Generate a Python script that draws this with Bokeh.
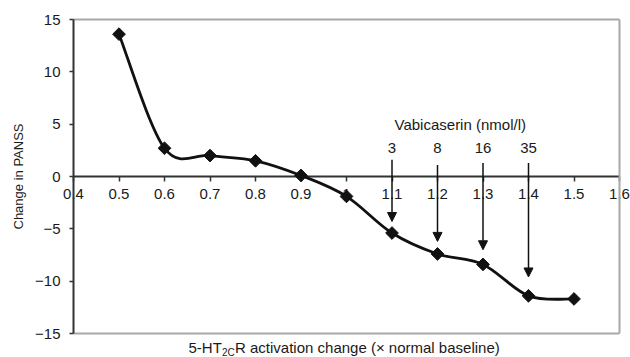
import numpy as np
from bokeh.plotting import figure
from bokeh.models import Range1d, Label, Arrow, NormalHead, FixedTicker, LinearAxis
from bokeh.embed import file_html
from bokeh.resources import INLINE

# ---- data ----
x_vals = [0.5, 0.6, 0.7, 0.8, 0.9, 1.0, 1.1, 1.2, 1.3, 1.4, 1.5]
y_vals = [13.6, 2.7, 2.0, 1.5, 0.1, -1.9, -5.4, -7.4, -8.4, -11.4, -11.7]
x_ticks = [0.4, 0.5, 0.6, 0.7, 0.8, 0.9, 1.0, 1.1, 1.2, 1.3, 1.4, 1.5, 1.6]
x_tick_labels = ["0.4", "0.5", "0.6", "0.7", "0.8", "0.9", "1", "1.1", "1.2", "1.3", "1.4", "1.5", "1.6"]
y_ticks = [-15, -10, -5, 0, 5, 10, 15]
y_tick_labels = ["\u221215", "\u221210", "\u22125", "0", "5", "10", "15"]
arrow_x = [1.1, 1.2, 1.3, 1.4]
arrow_labels = ["3", "8", "16", "35"]
arrow_top = [1.6, 1.1, 1.3, 1.3]
arrow_tip = [-4.3, -6.2, -7.0, -9.6]
dose_title = "Vabicaserin (nmol/l)"

FONT = "Liberation Sans"
INK = "#1a1a1a"
AX = "#333333"
BOX = "#a8a8a8"

W, H = 630, 357
# plotting box (pixels from top-left) and its data limits
BOX_L, BOX_R, BOX_T, BOX_B = 73, 619, 19, 333
X0, X1 = 0.4, 1.6
Y0, Y1 = -15, 15
xpp = (X1 - X0) / (BOX_R - BOX_L)
ypp = (Y1 - Y0) / (BOX_B - BOX_T)

# the frame spans the whole canvas so nothing gets clipped; the box is drawn with axes
p = figure(width=W, height=H, output_backend="svg", toolbar_location=None,
           x_range=Range1d(X0 - BOX_L * xpp, X1 + (W - BOX_R) * xpp),
           y_range=Range1d(Y0 - (H - BOX_B) * ypp, Y1 + BOX_T * ypp),
           x_axis_location=None, y_axis_location=None,
           min_border=0, min_border_left=0, min_border_right=0, min_border_top=0, min_border_bottom=0)
p.grid.visible = False
p.background_fill_color = "white"
p.border_fill_color = "white"
p.outline_line_color = None


def box_axis(side, loc, bounds):
    a = LinearAxis(fixed_location=loc, bounds=bounds, ticker=FixedTicker(ticks=[]),
                   axis_line_color=BOX, axis_line_width=2,
                   major_tick_line_color=None, minor_tick_line_color=None,
                   major_label_text_font_size="0px")
    p.add_layout(a, side)


box_axis("above", Y1, (X0, X1))
box_axis("below", Y0, (X0, X1))
box_axis("right", X1, (Y0, Y1))

# x axis crossing at y = 0
xa = LinearAxis(fixed_location=0, bounds=(X0, X1), ticker=FixedTicker(ticks=x_ticks))
xa.major_label_overrides = {t: l for t, l in zip(x_ticks, x_tick_labels)}
xa.axis_line_color = AX
xa.axis_line_width = 2
xa.major_tick_in = 0
xa.major_tick_out = 5
xa.major_tick_line_color = AX
xa.major_tick_line_width = 1.5
xa.minor_tick_line_color = None
xa.major_label_standoff = 7
xa.major_label_text_font = FONT
xa.major_label_text_font_size = "15px"
xa.major_label_text_color = INK
p.add_layout(xa, "below")

ya = LinearAxis(fixed_location=X0, bounds=(Y0, Y1), ticker=FixedTicker(ticks=y_ticks))
ya.major_label_overrides = {t: l for t, l in zip(y_ticks, y_tick_labels)}
ya.axis_line_color = AX
ya.axis_line_width = 2
ya.major_tick_in = 0
ya.major_tick_out = 4
ya.major_tick_line_color = AX
ya.major_tick_line_width = 1.5
ya.minor_tick_line_color = None
ya.major_label_standoff = 9
ya.major_label_text_font = FONT
ya.major_label_text_font_size = "15px"
ya.major_label_text_color = INK
ya.axis_label = "Change in PANSS"
ya.axis_label_text_font = FONT
ya.axis_label_text_font_size = "13px"
ya.axis_label_text_font_style = "normal"
ya.axis_label_text_color = INK
ya.axis_label_standoff = 6
p.add_layout(ya, "left")

# smoothed line (Catmull-Rom style Bezier segments through the data points)
xs = np.array(x_vals, dtype=float)
ys = np.array(y_vals, dtype=float)
n = len(xs)
x0, y0, x1, y1, cx0, cy0, cx1, cy1 = ([] for _ in range(8))
for i in range(n - 1):
    a = i - 1 if i > 0 else i
    d = i + 2 if i + 2 < n else i + 1
    x0.append(xs[i]); y0.append(ys[i])
    x1.append(xs[i + 1]); y1.append(ys[i + 1])
    cx0.append(xs[i] + (xs[i + 1] - xs[a]) / 6); cy0.append(ys[i] + (ys[i + 1] - ys[a]) / 6)
    cx1.append(xs[i + 1] - (xs[d] - xs[i]) / 6); cy1.append(ys[i + 1] - (ys[d] - ys[i]) / 6)
p.bezier(x0=x0, y0=y0, x1=x1, y1=y1, cx0=cx0, cy0=cy0, cx1=cx1, cy1=cy1,
         line_color="#111111", line_width=2.8, level="overlay")
p.scatter(x_vals, y_vals, marker="square", angle=np.pi / 4, size=9,
          fill_color="#111111", line_color="#111111", level="overlay")

# arrows and dose labels
for ax_, top, tip, lab in zip(arrow_x, arrow_top, arrow_tip, arrow_labels):
    p.add_layout(Arrow(x_start=ax_, y_start=top, x_end=ax_, y_end=tip,
                       line_color="#111111", line_width=1.5,
                       end=NormalHead(size=9, fill_color="#111111", line_color="#111111", line_width=1)))
    p.add_layout(Label(x=ax_, y=2.75, text=lab, text_align="center", text_baseline="middle",
                       text_font=FONT, text_font_size="15px", text_color=INK))
p.add_layout(Label(x=1.25, y=4.95, text=dose_title, text_align="center", text_baseline="middle",
                   text_font=FONT, text_font_size="15px", text_color=INK))

# x-axis title with subscript, below the box
base_x = X0 + (188 - BOX_L) * xpp
top_y = Y0 - (338 - BOX_B) * ypp
p.add_layout(Label(x=base_x, y=top_y, text="5-HT", text_align="left", text_baseline="top",
                   text_font=FONT, text_font_size="15px", text_color=INK))
p.add_layout(Label(x=base_x, y=top_y, x_offset=33.5, y_offset=-8, text="2C", text_align="left",
                   text_baseline="top", text_font=FONT, text_font_size="10px", text_color=INK))
p.add_layout(Label(x=base_x, y=top_y, x_offset=46.5, text="R activation change (\u00d7 normal baseline)",
                   text_align="left", text_baseline="top",
                   text_font=FONT, text_font_size="15px", text_color=INK))

open("out.html", "w").write(file_html(p, INLINE))
